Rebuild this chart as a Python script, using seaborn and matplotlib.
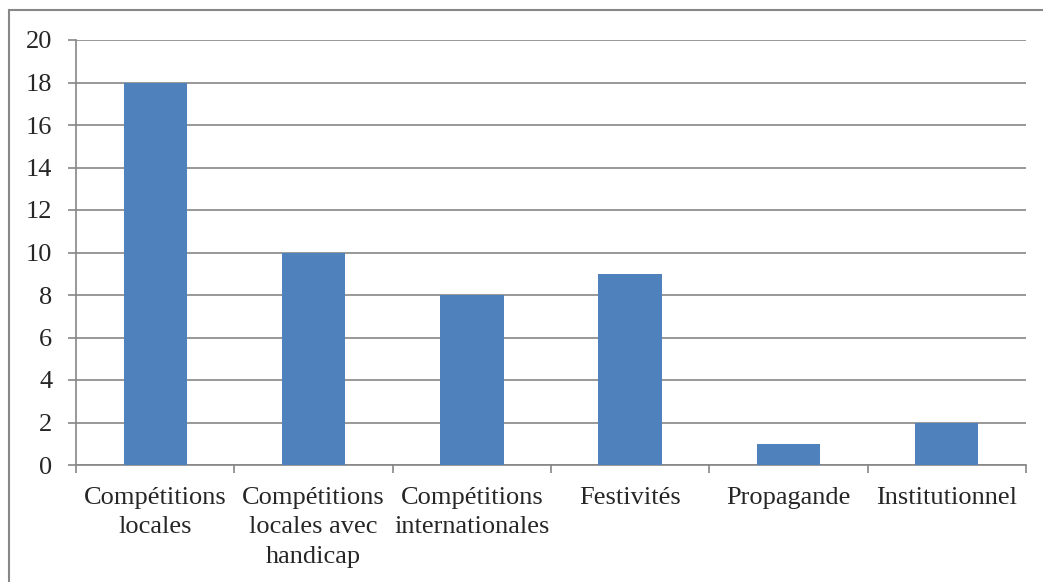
import pandas as pd
import matplotlib.pyplot as plt
import seaborn as sns
from matplotlib.patches import Rectangle

# données
categories = ["Compétitions\nlocales", "Compétitions\nlocales avec\nhandicap",
              "Compétitions\ninternationales", "Festivités", "Propagande", "Institutionnel"]
valeurs = [18, 10, 8, 9, 1, 2]

df = pd.DataFrame({"categorie": categories, "valeur": valeurs})

sns.set_style("white")
plt.rcParams['font.family'] = ['Liberation Serif', 'DejaVu Serif']

fig = plt.figure(figsize=(10.43, 5.82), dpi=100)
ax = fig.add_axes([76 / 1043, 117 / 582, 950 / 1043, 425 / 582])

sns.barplot(data=df, x="categorie", y="valeur", color="#4F81BD", saturation=1,
            width=0.4, linewidth=0, ax=ax, zorder=3)

grid_col = "#868686"
ax.set_ylim(0, 20)
ax.set_yticks(range(0, 21, 2))
ax.set_xlim(-0.5, len(categories) - 0.5)
ax.set_xticks([i - 0.5 for i in range(len(categories) + 1)], minor=False)
ax.set_xticklabels([])
ax.set_xticks(range(len(categories)), minor=True)
ax.set_xticklabels(categories, minor=True)
ax.tick_params(axis="x", which="minor", bottom=False, length=0, pad=16, labelsize=19)
ax.tick_params(axis="x", which="major", bottom=True, length=6, color=grid_col, width=1.2)
ax.tick_params(axis="y", left=True, length=6, color=grid_col, width=1.2, pad=11, labelsize=19)
for lab in ax.get_xticklabels(minor=True):
    lab.set_linespacing(1.42)

ax.yaxis.grid(True, color=grid_col, linewidth=1.2, zorder=0)
ax.set_axisbelow(True)
for s in ["top", "right"]:
    ax.spines[s].set_visible(False)
for s in ["left", "bottom"]:
    ax.spines[s].set_color(grid_col)
    ax.spines[s].set_linewidth(1.2)
ax.set_xlabel("")
ax.set_ylabel("")

# cadre du graphique
fig.patches.append(Rectangle((9 / 1043, -0.1), 1.2, (582 - 10) / 582 + 0.1,
                             transform=fig.transFigure, fill=False,
                             edgecolor="#878787", linewidth=1.5))

fig.savefig("out.png", dpi=100)
plt.close()
